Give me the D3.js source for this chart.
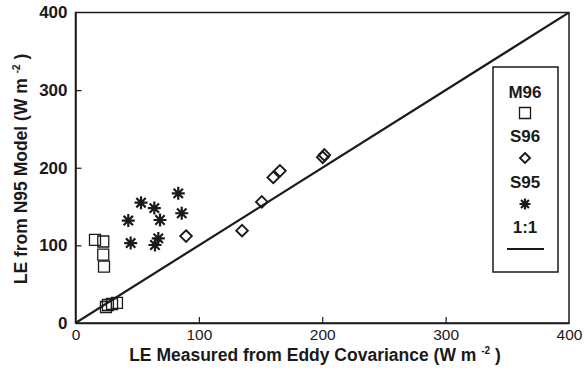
<!DOCTYPE html>
<html>
<head>
<meta charset="utf-8">
<script src="https://cdn.jsdelivr.net/npm/d3@7"></script>
<style>
  body { margin: 0; background: #fff; }
  svg { display: block; font-family: "Liberation Sans", Arial, sans-serif; }
</style>
</head>
<body>
<svg id="chart"></svg>
<script>
// data: [measured, modelled]
const m96 = [[15.8, 107], [22.5, 105], [22.5, 88], [23.1, 72.5],
             [24.7, 20.6], [26.3, 23.2], [29.6, 24.5], [33.6, 25.8]];
const s96 = [[89.6, 112], [135, 119], [151, 156], [160.3, 187.5],
             [165.7, 196], [200.4, 213.5], [201.7, 216.5]];
const s95 = [[53.1, 155], [63.9, 148], [68.5, 132.7], [42.8, 132],
             [83.3, 167], [86.1, 141.4], [44.7, 103], [67.1, 109], [64.4, 100.5]];
const oneToOne = [[0, 0], [400, 400]];
const tickValues = [0, 100, 200, 300, 400];
const legendItems = ["M96", "S96", "S95", "1:1"];

const W = 584, H = 381;
const margin = { top: 12.5, right: 15, bottom: 58, left: 75.5 };
const ink = "#1a1a1a";

const svg = d3.select("#chart").attr("width", W).attr("height", H);

const x = d3.scaleLinear().domain([0, 400]).range([margin.left, 569]);
const y = d3.scaleLinear().domain([0, 400]).range([323, margin.top]);

// frame
svg.append("rect")
  .attr("x", x(0)).attr("y", y(400))
  .attr("width", x(400) - x(0)).attr("height", y(0) - y(400))
  .attr("fill", "none").attr("stroke", ink).attr("stroke-width", 1.5);

// axes
const xAxis = svg.append("g")
  .attr("transform", `translate(0,${y(0)})`)
  .call(d3.axisBottom(x).tickValues(tickValues).tickSizeInner(-6).tickSizeOuter(0).tickPadding(6));
xAxis.selectAll("text").style("font-size", "15.5px").style("fill", ink);

const yAxis = svg.append("g")
  .attr("transform", `translate(${x(0)},0)`)
  .call(d3.axisLeft(y).tickValues(tickValues).tickSizeInner(-6).tickSizeOuter(0).tickPadding(8));
yAxis.selectAll("text").style("font-size", "17px").style("font-weight", "bold").style("fill", ink);

svg.selectAll(".domain").attr("stroke", ink).attr("stroke-width", 1.5);
svg.selectAll(".tick line").attr("stroke", ink).attr("stroke-width", 1.2);
yAxis.selectAll(".tick").filter(d => d === 0 || d === 400).select("line").remove();
xAxis.selectAll(".tick").filter(d => d === 0 || d === 400).select("line").remove();

// axis titles
const xt = svg.append("text")
  .attr("x", 315).attr("y", 361)
  .attr("text-anchor", "middle")
  .style("font-size", "17.5px").style("font-weight", "bold").style("fill", ink);
xt.append("tspan").text("LE Measured from Eddy Covariance (W m ");
xt.append("tspan").attr("dy", -7).style("font-size", "10px").text("-2");
xt.append("tspan").attr("dy", 7).text(" )");

const yt = svg.append("text")
  .attr("transform", "translate(27,169) rotate(-90)")
  .attr("text-anchor", "middle")
  .style("font-size", "17.5px").style("font-weight", "bold").style("fill", ink);
yt.append("tspan").text("LE from N95 Model (W m ");
yt.append("tspan").attr("dy", -7).style("font-size", "10px").text("-2");
yt.append("tspan").attr("dy", 7).text(" )");

// clip for data
svg.append("clipPath").attr("id", "clip").append("rect")
  .attr("x", x(0)).attr("y", y(400))
  .attr("width", x(400) - x(0)).attr("height", y(0) - y(400));

const plot = svg.append("g").attr("clip-path", "url(#clip)");

// 1:1 line
plot.append("path")
  .datum(oneToOne)
  .attr("d", d3.line().x(d => x(d[0])).y(d => y(d[1])))
  .attr("fill", "none").attr("stroke", ink).attr("stroke-width", 2.2);

// marker shapes
const squarePath = s => `M${-s},${-s}H${s}V${s}H${-s}Z`;
const diamondPath = s => `M0,${-s}L${s},0L0,${s}L${-s},0Z`;
const starPath = s => {
  const d = s * 0.72;
  return `M0,${-s}V${s}M${-s},0H${s}M${-d},${-d}L${d},${d}M${-d},${d}L${d},${-d}`;
};

function drawMarkers(g, data, path, sw) {
  g.selectAll(null)
    .data(data)
    .enter()
    .append("path")
    .attr("transform", d => `translate(${x(d[0])},${y(d[1])})`)
    .attr("d", path)
    .attr("fill", "none")
    .attr("stroke", ink)
    .attr("stroke-width", sw);
}

drawMarkers(plot, m96, squarePath(5.5), 1.3);
drawMarkers(plot, s96, diamondPath(5.8), 1.9);
drawMarkers(plot, s95, starPath(6.5), 2.2);

// legend
const lg = svg.append("g");
lg.append("rect")
  .attr("x", 493).attr("y", 67).attr("width", 65).attr("height", 205)
  .attr("fill", "#fff").attr("stroke", ink).attr("stroke-width", 1.5);

const lx = 525;
const labelY = [98, 142, 188, 233];
lg.selectAll(null)
  .data(legendItems)
  .enter()
  .append("text")
  .attr("x", lx).attr("y", (d, i) => labelY[i])
  .attr("text-anchor", "middle")
  .style("font-size", "17px").style("font-weight", "bold").style("fill", ink)
  .text(d => d);

lg.append("path").attr("transform", `translate(${lx},113)`).attr("d", squarePath(5.5))
  .attr("fill", "none").attr("stroke", ink).attr("stroke-width", 1.3);
lg.append("path").attr("transform", `translate(${lx},158)`).attr("d", diamondPath(5))
  .attr("fill", "none").attr("stroke", ink).attr("stroke-width", 1.9);
lg.append("path").attr("transform", `translate(${lx},204)`).attr("d", starPath(5.5))
  .attr("fill", "none").attr("stroke", ink).attr("stroke-width", 2.2);
lg.append("line").attr("x1", 507).attr("x2", 544).attr("y1", 249).attr("y2", 249)
  .attr("stroke", ink).attr("stroke-width", 2.2);
</script>
</body>
</html>
